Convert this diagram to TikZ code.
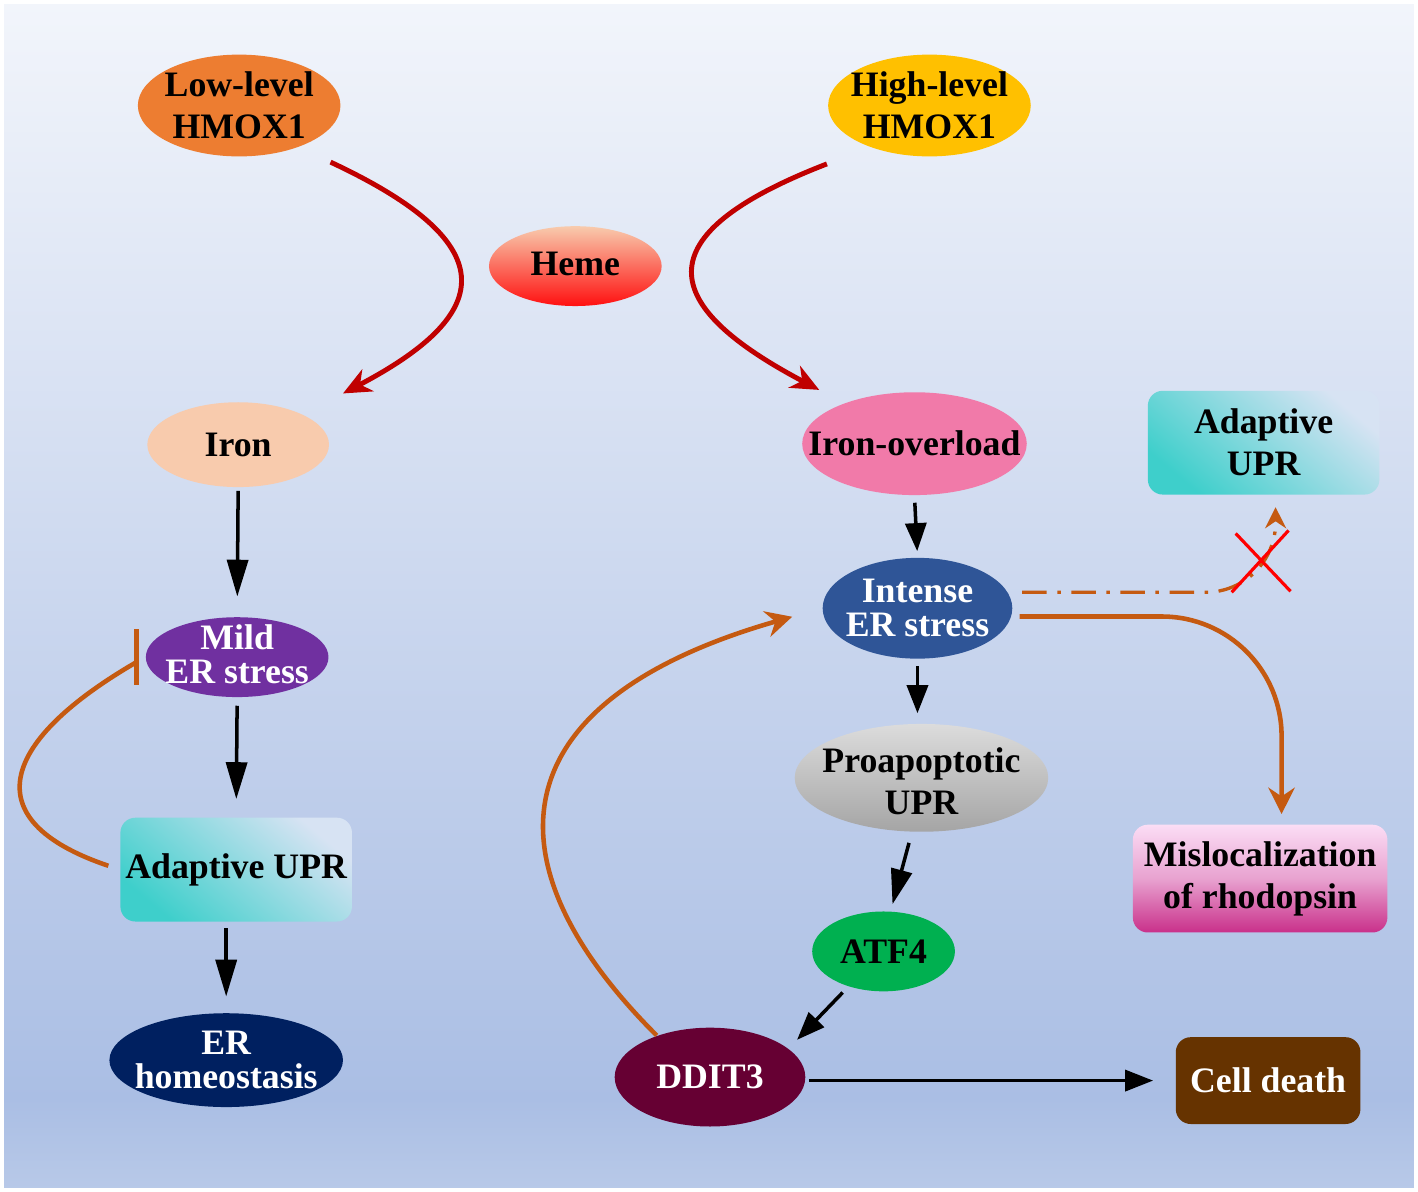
\documentclass[tikz,border=0pt]{standalone}
\usepackage{fontspec}
\setmainfont{Liberation Serif}
\usetikzlibrary{arrows.meta,shapes.geometric}
\definecolor{bgtop}{HTML}{F2F5FB}
\definecolor{bgbot}{HTML}{AABEE4}
\definecolor{bgend}{HTML}{B8C9E8}
\definecolor{lowc}{HTML}{ED7D31}
\definecolor{highc}{HTML}{FFC000}
\definecolor{hemetop}{HTML}{F8CBAD}
\definecolor{hemebot}{HTML}{FF1010}
\definecolor{ironc}{HTML}{F8CBAD}
\definecolor{ioc}{HTML}{F17AA9}
\definecolor{mildc}{HTML}{7030A0}
\definecolor{iesc}{HTML}{2F5597}
\definecolor{erhc}{HTML}{002060}
\definecolor{atfc}{HTML}{00B050}
\definecolor{dditc}{HTML}{660033}
\definecolor{cdc}{HTML}{663300}
\definecolor{protop}{HTML}{DCDCDC}
\definecolor{probot}{HTML}{A5A5A5}
\definecolor{mistop}{HTML}{FBDDF5}
\definecolor{mismid}{HTML}{E8A2D0}
\definecolor{misbot}{HTML}{C9308A}
\definecolor{adteal}{HTML}{3ECFCB}
\definecolor{adlight}{HTML}{D7E3F3}
\definecolor{redc}{HTML}{C00000}
\definecolor{orc}{HTML}{C55A11}
\definecolor{xred}{HTML}{FF0000}
\begin{document}
\begin{tikzpicture}[x=0.01cm,y=-0.01cm,
  lbl/.style={font=\bfseries\fontsize{10.2}{12}\selectfont, align=center, inner sep=0pt},
  tight/.style={font=\bfseries\fontsize{10.2}{9.8}\selectfont, align=center, inner sep=0pt},
  ell/.style={ellipse, inner sep=0pt, draw=none},
  box/.style={rectangle, rounded corners=0.15cm, inner sep=0pt, lbl},
  adshade/.style={top color=adlight, bottom color=adteal, shading angle=-40},
  blk/.style={draw=black, line width=1pt, -{Triangle[length=#1,width=6pt]}},
  blk/.default=9pt,
  redarr/.style={draw=redc, line width=1.4pt, -{Stealth[length=8pt,width=7pt,inset=2.5pt]}},
  orarr/.style={draw=orc, line width=1.3pt, -{Stealth[length=7.5pt,width=7.5pt,inset=2.5pt]}},
  orline/.style={draw=orc, line width=1.3pt},
  xmark/.style={draw=xred, line width=0.9pt}
]
% background
\shade[top color=bgtop, bottom color=bgbot] (0,0) rectangle (1418,1100);
\shade[top color=bgbot, bottom color=bgend] (0,1099) rectangle (1418,1191);
\draw[white, line width=1pt] (0,0) rectangle (1418,1191);
\useasboundingbox (0,0) rectangle (1418,1191);

% nodes
\node[ell, fill=lowc, minimum width=2.03cm, minimum height=1.02cm] (low) at (238,104) {};
\node[lbl] at (low) {Low-level\\HMOX1};
\node[ell, fill=highc, minimum width=2.03cm, minimum height=1.02cm] (high) at (930,104) {};
\node[lbl] at (high) {High-level\\HMOX1};
\node[ell, top color=hemetop, bottom color=hemebot, minimum width=1.73cm, minimum height=0.80cm] (heme) at (575,265) {};
\node[lbl] at ([yshift=0.02cm]heme) {Heme};
\node[ell, fill=ironc, minimum width=1.82cm, minimum height=0.85cm] (iron) at (237,444) {};
\node[lbl] at (iron) {Iron};
\node[ell, fill=ioc, minimum width=2.25cm, minimum height=1.03cm] (io) at (915,443) {};
\node[lbl] at (io) {Iron-overload};
\node[ell, fill=mildc, minimum width=1.83cm, minimum height=0.80cm] (mild) at (236,657) {};
\node[tight, text=white] at ([yshift=0.03cm]mild) {Mild\\ER stress};
\node[ell, fill=iesc, minimum width=1.90cm, minimum height=1.01cm] (ies) at (918,608) {};
\node[tight, text=white] at (ies) {Intense\\ER stress};
\node[box, adshade, minimum width=2.32cm, minimum height=1.04cm] (adL) at (235,870) {Adaptive UPR};
\node[ell, fill=erhc, minimum width=2.34cm, minimum height=0.94cm] (erh) at (225,1061) {};
\node[tight, text=white] at (erh) {ER\\homeostasis};
\node[box, adshade, minimum width=2.32cm, minimum height=1.04cm] (adR) at (1265,442) {Adaptive\\UPR};
\node[ell, top color=protop, bottom color=probot, minimum width=2.54cm, minimum height=1.08cm] (pro) at (922,778) {};
\node[lbl] at ([yshift=-0.03cm]pro) {Proapoptotic\\UPR};
\node[ell, fill=atfc, minimum width=1.43cm, minimum height=0.80cm] (atf) at (884,952) {};
\node[lbl] at (atf) {ATF4};
\node[box, top color=mistop, bottom color=misbot, middle color=mismid, minimum width=2.55cm, minimum height=1.08cm] (mis) at (1261.5,879) {Mislocalization\\of rhodopsin};
\node[ell, fill=dditc, minimum width=1.91cm, minimum height=0.99cm] (ddit) at (710,1078) {};
\node[lbl, text=white] at (ddit) {DDIT3};
\node[box, fill=cdc, text=white, minimum width=1.85cm, minimum height=0.87cm] (cd) at (1269.5,1081.5) {Cell death};

% red curved arrows
\draw[redarr, shorten <=0.35cm, shorten >=0.45cm] (low.-35) .. controls (510,245) and (490,315) .. (iron.25);
\draw[redarr, shorten <=0.46cm, shorten >=0.28cm] (high.-145) .. controls (640,235) and (660,305) .. (io.150);

% black arrows
\draw[blk=10.5pt, shorten <=0.03cm, shorten >=0.2cm] (iron.south) -- (mild.north);
\draw[blk=10.5pt, shorten <=0.08cm, shorten >=0.18cm] (mild.south) -- (adL.north);
\draw[blk=10.5pt, shorten <=0.06cm, shorten >=0.16cm] (adL.south -| erh.north) -- (erh.north);
\draw[blk=8pt, shorten <=0.07cm, shorten >=0.06cm] (io.south) -- (ies.north);
\draw[blk=8pt, shorten <=0.07cm, shorten >=0.1cm] (ies.south) -- (ies.south |- pro.north);
\draw[blk=10pt, shorten <=0.11cm, shorten >=0.07cm] (pro.-100) -- (atf.80);
\draw[blk=8pt, shorten <=0.08cm, shorten >=0.12cm] (atf.-135) -- (ddit.20);
\draw[blk=8pt, shorten <=0.03cm, shorten >=0.22cm] (ddit.east |- cd.west) -- (cd.west);

% orange inhibition loop
\draw[orline, shorten <=0.12cm, shorten >=0.085cm] (adL.west) .. controls (-30,820) and (0,740) .. (mild.west);
\draw[orline] ([xshift=-0.085cm,yshift=0.28cm]mild.west) -- ([xshift=-0.085cm,yshift=-0.28cm]mild.west);

% orange arrows
\draw[orarr, shorten >=0.31cm] (ddit.142) .. controls (480,860) and (500,700) .. (ies.west);
\draw[orarr, rounded corners=1.2cm, shorten <=0.08cm, shorten >=0.1cm] (ies.-5) -| ([xshift=0.215cm]mis.north);
\draw[draw=orc, line width=0.95pt, dash pattern=on 7pt off 3pt on 1pt off 3pt, rounded corners=0.7cm,
      shorten <=0.14cm, shorten >=0.12cm, -{Stealth[length=6pt,width=6pt,inset=2pt]}]
      (ies.10) -| ([xshift=0.12cm]adR.south);

% red cross
\draw[xmark] (1237,533) -- (1292,591) (1290,530) -- (1233,592);
\end{tikzpicture}
\end{document}
